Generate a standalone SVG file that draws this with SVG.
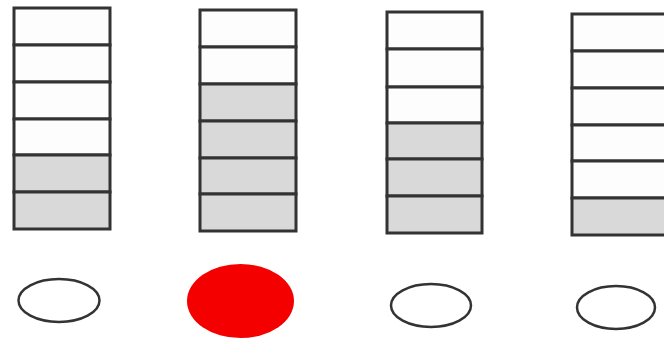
<svg xmlns="http://www.w3.org/2000/svg" width="664" height="345" viewBox="0 0 664 345">
<style>
.w{fill:#fdfdfd;stroke:#333;stroke-width:3}
.g{fill:#d9d9d9;stroke:#333;stroke-width:3}
.o{fill:none;stroke:#333;stroke-width:2.5}
.r{fill:#f50000}
</style>
<rect width="664" height="345" fill="#fff"/>
<g id="col1">
<rect class="w" x="14" y="8" width="96" height="37"/>
<rect class="w" x="14" y="45" width="96" height="37"/>
<rect class="w" x="14" y="82" width="96" height="37"/>
<rect class="w" x="14" y="119" width="96" height="36"/>
<rect class="g" x="14" y="155" width="96" height="37"/>
<rect class="g" x="14" y="192" width="96" height="37"/>
</g>
<g id="col2">
<rect class="w" x="200" y="10" width="96" height="37"/>
<rect class="w" x="200" y="47" width="96" height="37"/>
<rect class="g" x="200" y="84" width="96" height="37"/>
<rect class="g" x="200" y="121" width="96" height="37"/>
<rect class="g" x="200" y="158" width="96" height="36"/>
<rect class="g" x="200" y="194" width="96" height="37"/>
</g>
<g id="col3">
<rect class="w" x="387" y="12" width="95" height="37"/>
<rect class="w" x="387" y="49" width="95" height="38"/>
<rect class="w" x="387" y="87" width="95" height="36"/>
<rect class="g" x="387" y="123" width="95" height="36"/>
<rect class="g" x="387" y="159" width="95" height="37"/>
<rect class="g" x="387" y="196" width="95" height="37"/>
</g>
<g id="col4">
<rect class="w" x="572" y="14" width="96" height="37"/>
<rect class="w" x="572" y="51" width="96" height="37"/>
<rect class="w" x="572" y="88" width="96" height="37"/>
<rect class="w" x="572" y="125" width="96" height="36"/>
<rect class="w" x="572" y="161" width="96" height="37"/>
<rect class="g" x="572" y="198" width="96" height="37"/>
</g>
<g id="oval1"><ellipse class="o" cx="59" cy="300.5" rx="40.5" ry="21.5"/></g>
<g id="oval2"><ellipse class="r" cx="240.5" cy="301" rx="53.5" ry="37"/></g>
<g id="oval3"><ellipse class="o" cx="431" cy="305.5" rx="40" ry="21.5"/></g>
<g id="oval4"><ellipse class="o" cx="616" cy="307.5" rx="39" ry="21.5"/></g>
</svg>
